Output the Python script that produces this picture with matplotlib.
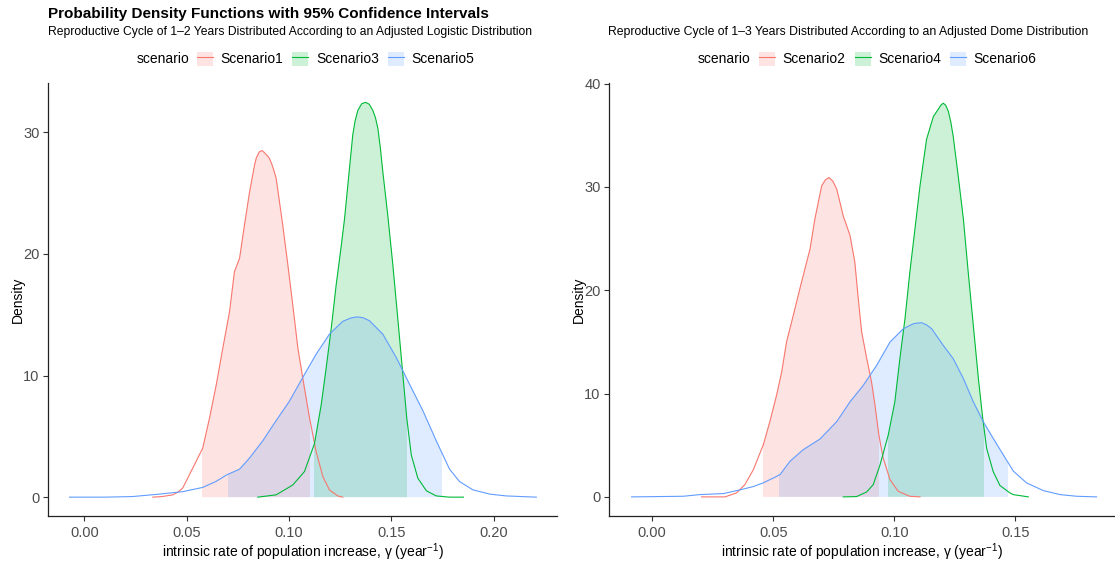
import numpy as np
import matplotlib
matplotlib.use("Agg")
import matplotlib.pyplot as plt
from matplotlib.patches import Rectangle, Patch
from matplotlib.lines import Line2D
from matplotlib.ticker import FormatStrFormatter

plt.rcParams['font.family'] = ['Liberation Sans', 'DejaVu Sans']
plt.rcParams['mathtext.fontset'] = 'custom'
plt.rcParams['mathtext.rm'] = 'Liberation Sans'

# ---------------- data ----------------
# Left panel: logistic distribution, scenarios 1, 3, 5
s1_x = [0.0334, 0.0380, 0.0432, 0.0456, 0.0480, 0.0529, 0.0578, 0.0611, 0.0644, 0.0676, 0.0709,
        0.0733, 0.0758, 0.0782, 0.0806, 0.0831, 0.0840, 0.0855, 0.0868, 0.0878, 0.0895, 0.0904,
        0.0915, 0.0925, 0.0937, 0.0969, 0.0994, 0.1018, 0.1043, 0.1067, 0.1100, 0.1132, 0.1165,
        0.1197, 0.1238, 0.1262]
s1_y = [0.0, 0.05, 0.19, 0.41, 0.74, 2.38, 4.03, 6.49, 9.23, 12.24, 15.25,
        18.54, 19.64, 22.37, 25.0, 27.3, 27.9, 28.4, 28.5, 28.35, 28.05, 27.85,
        27.4, 26.9, 26.2, 22.37, 19.09, 15.8, 12.24, 9.78, 6.49, 3.75, 1.69,
        0.6, 0.1, 0.0]
s1_ci = [0.0575, 0.1100]

s3_x = [0.0847, 0.0937, 0.1018, 0.1075, 0.1124, 0.1157, 0.1181, 0.1206, 0.1230, 0.1255, 0.1271,
        0.1287, 0.1311, 0.1322, 0.1336, 0.1355, 0.1374, 0.1392, 0.1409, 0.1422, 0.1434, 0.1446,
        0.1458, 0.1482, 0.1507, 0.1531, 0.1556, 0.1575, 0.1597, 0.1629, 0.1671, 0.1719, 0.1784,
        0.1852]
s3_y = [0.0, 0.19, 1.0, 2.1, 4.4, 7.6, 10.6, 13.9, 17.45, 20.7, 22.9,
        25.66, 29.77, 30.9, 31.8, 32.35, 32.46, 32.3, 31.8, 31.2, 30.3, 28.7,
        26.75, 23.2, 19.09, 14.7, 10.05, 6.49, 3.47, 1.56, 0.52, 0.1, 0.0,
        0.0]
s3_ci = [0.1121, 0.1574]

s5_x = [-0.0073, 0.0100, 0.0236, 0.0367, 0.0480, 0.0578, 0.0644, 0.0695, 0.0758, 0.0806, 0.0870,
        0.0937, 0.1002, 0.1067, 0.1132, 0.1197, 0.1262, 0.1300, 0.1331, 0.1362, 0.1393, 0.1458,
        0.1523, 0.1588, 0.1654, 0.1720, 0.1784, 0.1833, 0.1898, 0.1980, 0.2061, 0.2208]
s5_y = [0.0, 0.0, 0.05, 0.25, 0.45, 0.8, 1.3, 1.83, 2.3, 3.2, 4.6,
        6.3, 7.9, 9.85, 11.75, 13.4, 14.45, 14.72, 14.82, 14.75, 14.5, 13.4,
        11.5, 9.3, 7.1, 4.6, 2.3, 1.28, 0.6, 0.25, 0.1, 0.0]
s5_ci = [0.0700, 0.1745]

# Right panel: dome distribution, scenarios 2, 4, 6
s2_x = [0.0204, 0.0301, 0.0349, 0.0383, 0.0418, 0.0459, 0.0486, 0.0514, 0.0535, 0.0555, 0.0583,
        0.0610, 0.0652, 0.0672, 0.0700, 0.0716, 0.0731, 0.0746, 0.0762, 0.0789, 0.0817, 0.0837,
        0.0851, 0.0865, 0.0886, 0.0906, 0.0920, 0.0936, 0.0954, 0.0982, 0.1016, 0.1064, 0.1106]
s2_y = [0.0, 0.0, 0.39, 1.19, 2.63, 5.04, 7.28, 9.86, 12.1, 15.0, 17.58,
        20.15, 24.0, 26.9, 30.1, 30.7, 30.9, 30.55, 29.8, 27.2, 25.3, 22.7,
        19.2, 15.97, 13.4, 11.1, 8.9, 6.0, 3.76, 1.67, 0.54, 0.06, 0.0]
s2_ci = [0.0456, 0.0936]

s4_x = [0.0789, 0.0844, 0.0886, 0.0913, 0.0941, 0.0975, 0.1002, 0.1023, 0.1044, 0.1064, 0.1085,
        0.1106, 0.1133, 0.1161, 0.1181, 0.1192, 0.1202, 0.1212, 0.1223, 0.1233, 0.1243, 0.1264,
        0.1285, 0.1305, 0.1326, 0.1347, 0.1365, 0.1381, 0.1408, 0.1436, 0.1477, 0.1491, 0.1553]
s4_y = [0.0, 0.03, 0.48, 1.19, 3.1, 6.0, 9.2, 13.4, 17.25, 21.75, 25.9,
        30.1, 34.6, 36.8, 37.5, 37.9, 38.1, 37.9, 37.3, 36.3, 34.9, 31.0,
        26.9, 21.75, 16.6, 11.45, 7.6, 4.7, 2.45, 1.1, 0.39, 0.22, 0.0]
s4_ci = [0.0972, 0.1370]

s6_x = [-0.0085, 0.0128, 0.0197, 0.0294, 0.0363, 0.0418, 0.0459, 0.0507, 0.0528, 0.0569, 0.0624,
        0.0693, 0.0762, 0.0817, 0.0872, 0.0927, 0.0982, 0.1037, 0.1078, 0.1095, 0.1113, 0.1133,
        0.1154, 0.1202, 0.1243, 0.1285, 0.1326, 0.1367, 0.1408, 0.1450, 0.1491, 0.1546, 0.1615,
        0.1684, 0.1753, 0.1835]
s6_y = [0.0, 0.06, 0.22, 0.32, 0.68, 1.0, 1.36, 1.9, 2.16, 3.44, 4.57,
        5.6, 7.28, 9.2, 10.8, 12.73, 14.98, 16.27, 16.75, 16.82, 16.85, 16.65,
        16.27, 14.66, 13.38, 11.45, 9.2, 7.28, 5.67, 4.06, 2.5, 1.35, 0.61,
        0.22, 0.06, 0.0]
s6_ci = [0.0524, 0.1470]

left_names = ["Scenario1", "Scenario3", "Scenario5"]
right_names = ["Scenario2", "Scenario4", "Scenario6"]
left_xticks = [0.00, 0.05, 0.10, 0.15, 0.20]
right_xticks = [0.00, 0.05, 0.10, 0.15]
left_yticks = [0, 10, 20, 30]
right_yticks = [0, 10, 20, 30, 40]

title = "Probability Density Functions with 95% Confidence Intervals"
sub_left = "Reproductive Cycle of 1\u20132 Years Distributed According to an Adjusted Logistic Distribution"
sub_right = "Reproductive Cycle of 1\u20133 Years Distributed According to an Adjusted Dome Distribution"
xlab = "intrinsic rate of population increase, \u03b3 (year$^{-1}$)"

colors = ["#F8766D", "#00BA38", "#619CFF"]

# ---------------- figure ----------------
W, H = 1115, 563
fig = plt.figure(figsize=(W / 100, H / 100), dpi=100)

def px_axes(l, r, t, b):
    return fig.add_axes([l / W, 1 - b / H, (r - l) / W, (b - t) / H])

axL = px_axes(48, 557, 83, 516)
axR = px_axes(609, 1115, 83, 516)

def draw(ax, series, xlim, ylim, xticks, yticks):
    for (x, y, ci), c in zip(series, colors):
        x = np.asarray(x); y = np.asarray(y)
        f = ax.fill_between(x, y, 0, facecolor=c, alpha=0.2, linewidth=0, zorder=1)
        clip = Rectangle((ci[0], -100), ci[1] - ci[0], 1000, transform=ax.transData)
        f.set_clip_path(clip)
    for (x, y, ci), c in zip(series, colors):
        ax.plot(x, y, color=c, lw=0.8, zorder=2, solid_joinstyle='round')
    ax.set_xlim(*xlim)
    ax.set_ylim(*ylim)
    ax.set_xticks(xticks)
    ax.set_yticks(yticks)
    ax.xaxis.set_major_formatter(FormatStrFormatter('%.2f'))
    for s in ['top', 'right']:
        ax.spines[s].set_visible(False)
    for s in ['left', 'bottom']:
        ax.spines[s].set_color('#222222')
        ax.spines[s].set_linewidth(0.9)
    ax.tick_params(length=3.5, width=0.8, color='#333333', labelcolor='#4D4D4D',
                   labelsize=10.5)
    ax.tick_params(axis='x', pad=3.5)
    ax.tick_params(axis='y', pad=2.5)
    ax.set_xlabel(xlab, fontsize=10, color='black', labelpad=1)
    ax.set_ylabel("Density", fontsize=10, color='black', labelpad=-1)

draw(axL, [(s1_x, s1_y, s1_ci), (s3_x, s3_y, s3_ci), (s5_x, s5_y, s5_ci)],
     (-0.0178, 0.2309), (-1.55, 34.05), left_xticks, left_yticks)
draw(axR, [(s2_x, s2_y, s2_ci), (s4_x, s4_y, s4_ci), (s6_x, s6_y, s6_ci)],
     (-0.0178, 0.1911), (-1.85, 40.05), right_xticks, right_yticks)

# titles
fig.text(48 / W, 1 - 14 / H, title, fontsize=11.0, fontweight='bold', va='center', ha='left')
fig.text(48 / W, 1 - 32 / H, sub_left, fontsize=8.75, va='center', ha='left')
fig.text(608 / W, 1 - 32 / H, sub_right, fontsize=8.8, va='center', ha='left')

# legends
def legend(ax, names, key_left, title_right):
    handles = [(Patch(facecolor=c, alpha=0.2, edgecolor='none'), Line2D([], [], color=c, lw=0.8))
               for c in colors]
    ax.legend(handles, names, loc='center left', ncol=3, frameon=False,
              bbox_to_anchor=(key_left / W, 1 - 59 / H), bbox_transform=fig.transFigure,
              borderpad=0, borderaxespad=0, handlelength=1.15, handleheight=1.2,
              handletextpad=0.55, columnspacing=0.65, fontsize=10)
    fig.text(title_right / W, 1 - 59 / H, "scenario", fontsize=10, ha='right', va='center')

legend(axL, left_names, 197, 189)
legend(axR, right_names, 759, 750)

fig.savefig("out.png", dpi=100)
